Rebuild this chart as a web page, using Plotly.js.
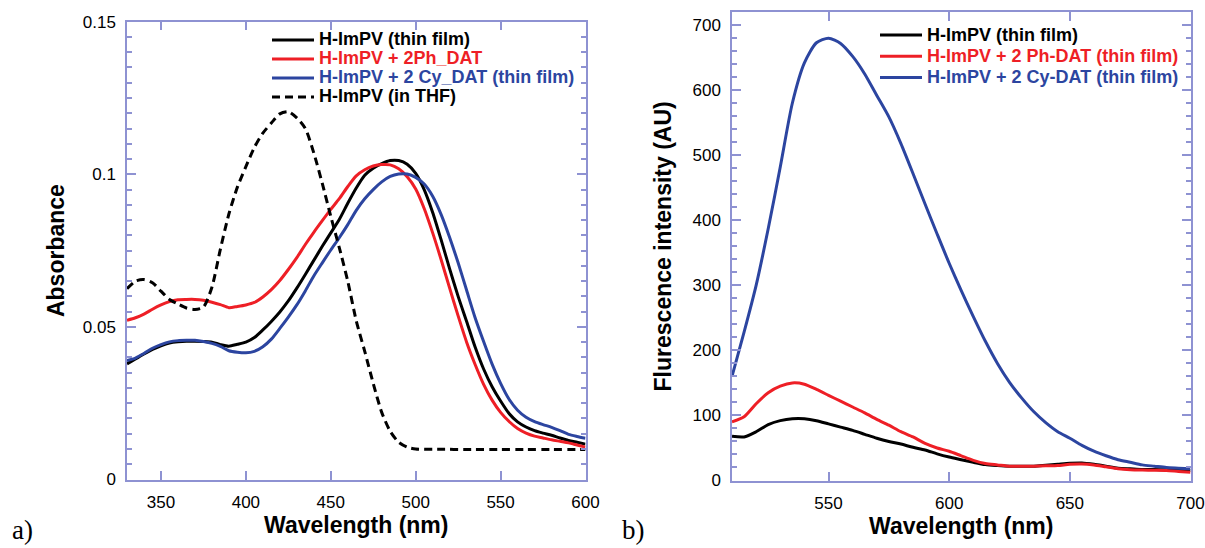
<!DOCTYPE html>
<html>
<head>
<meta charset="utf-8">
<script src="https://cdn.plot.ly/plotly-3.0.1.min.js"></script>
<style>
  html, body { margin: 0; padding: 0; background: #fff; }
  #chart { width: 1205px; height: 548px; }
</style>
</head>
<body>
<div id="chart"></div>
<script>
// ---------- Panel a) absorbance ----------
const absWavelength = [330,335,340,345,350,355,360,365,370,375,380,385,390,395,400,405,410,415,420,425,430,435,440,445,450,455,460,465,470,475,480,485,490,495,500,505,510,515,520,525,530,535,540,545,550,555,560,565,570,575,580,585,590,595,600];

const absThinFilm = [0.0379,0.0395,0.0411,0.0426,0.0438,0.0447,0.0451,0.0453,0.0453,0.0452,0.0450,0.0442,0.0437,0.0443,0.0450,0.0465,0.0490,0.0518,0.0549,0.0585,0.0627,0.0672,0.0718,0.0764,0.0808,0.0852,0.0905,0.0955,0.0997,0.1020,0.1035,0.1045,0.1045,0.1033,0.1003,0.0950,0.0875,0.0785,0.0690,0.0600,0.0518,0.0434,0.0362,0.0304,0.0257,0.0216,0.0189,0.0172,0.0160,0.0152,0.0145,0.0136,0.0128,0.0122,0.0116];

const absPhDAT = [0.0522,0.0530,0.0542,0.0558,0.0572,0.0583,0.0589,0.0590,0.0590,0.0587,0.0581,0.0573,0.0563,0.0567,0.0572,0.0580,0.0598,0.0622,0.0652,0.0688,0.0727,0.0770,0.0810,0.0848,0.0885,0.0920,0.0960,0.0995,0.1015,0.1027,0.1032,0.1031,0.1018,0.0992,0.0952,0.0888,0.0808,0.0720,0.0627,0.0536,0.0450,0.0377,0.0312,0.0260,0.0220,0.0190,0.0167,0.0152,0.0142,0.0136,0.0130,0.0125,0.0120,0.0113,0.0106];

const absCyDAT = [0.0390,0.0398,0.0413,0.0430,0.0442,0.0451,0.0455,0.0456,0.0456,0.0452,0.0446,0.0436,0.0422,0.0417,0.0415,0.0420,0.0435,0.0460,0.0495,0.0532,0.0572,0.0618,0.0667,0.0710,0.0752,0.0792,0.0835,0.0882,0.0920,0.0950,0.0975,0.0993,0.1001,0.1001,0.0990,0.0968,0.0928,0.0868,0.0793,0.0710,0.0620,0.0530,0.0452,0.0378,0.0315,0.0263,0.0227,0.0204,0.0190,0.0180,0.0171,0.0160,0.0148,0.0141,0.0135];

const absTHF = [0.0625,0.0650,0.0655,0.0645,0.0617,0.0590,0.0575,0.0562,0.0557,0.0565,0.0630,0.0755,0.0870,0.0958,0.1025,0.1088,0.1135,0.1168,0.1198,0.1205,0.1185,0.1150,0.1070,0.0970,0.0862,0.0760,0.0650,0.0520,0.0420,0.0315,0.0220,0.0158,0.0122,0.0106,0.0100,0.0099,0.0099,0.0099,0.0099,0.0098,0.0098,0.0098,0.0098,0.0098,0.0098,0.0098,0.0098,0.0098,0.0098,0.0098,0.0098,0.0098,0.0098,0.0098,0.0098];

// ---------- Panel b) fluorescence ----------
const flWavelength = [510,515,520,525,530,535,540,545,550,555,560,565,570,575,580,585,590,595,600,605,610,615,620,625,630,635,640,645,650,655,660,665,670,675,680,685,690,695,700];

const flThinFilm = [68,67,75,86,92,95,95,92,87,82,77,71,65,60,56,51,47,41,36,32,28,24.5,23,22,22,22,23.5,25,26.5,27,25,22,19,18,17,16.8,16.4,16,15.4];

const flPhDAT = [90,98,118,135,145,150,148,140,131,122,113,104,94,85,75,67,57,50,45,38,31,26,24,22,22,22,22.5,23,25,25.5,24,21,18,16.5,16,15.8,15.4,14,12.8];

const flCyDAT = [160,228,300,387,482,580,642,673,680,672,652,625,592,559,518,472,425,379,334,292,252,214,180,151,127,106,89,75,65,54,45,38,32,28,24,22,20,19,18];

const seriesNamesA = ['H-ImPV (thin film)', 'H-ImPV + 2Ph_DAT', 'H-ImPV + 2 Cy_DAT (thin film)', 'H-ImPV (in THF)'];
const seriesNamesB = ['H-ImPV (thin film)', 'H-ImPV + 2 Ph-DAT (thin film)', 'H-ImPV + 2 Cy-DAT (thin film)'];

const BLACK = '#000000', RED = '#ee1f26', BLUE = '#2c45a0';
const FRAME = '#8e92d2';
const FONT = 'Liberation Sans, Arial, sans-serif';

function styled(txt, c) { return '<span style="color:' + c + ';font-size:18px">' + txt + '</span>'; }

function line(x, y, name, color, xa, ya, leg, dash) {
  return {
    type: 'scatter', mode: 'lines', x: x, y: y,
    name: styled(name, color), xaxis: xa, yaxis: ya, legend: leg,
    line: { color: color, width: 3, shape: 'spline', smoothing: 0.7, dash: dash || 'solid' },
    hoverinfo: 'x+y'
  };
}

const data = [
  line(absWavelength, absThinFilm, seriesNamesA[0], BLACK, 'x', 'y', 'legend'),
  line(absWavelength, absPhDAT, seriesNamesA[1], RED, 'x', 'y', 'legend'),
  line(absWavelength, absCyDAT, seriesNamesA[2], BLUE, 'x', 'y', 'legend'),
  line(absWavelength, absTHF, seriesNamesA[3], BLACK, 'x', 'y', 'legend', '8px,5px'),
  line(flWavelength, flThinFilm, seriesNamesB[0], BLACK, 'x2', 'y2', 'legend2'),
  line(flWavelength, flPhDAT, seriesNamesB[1], RED, 'x2', 'y2', 'legend2'),
  line(flWavelength, flCyDAT, seriesNamesB[2], BLUE, 'x2', 'y2', 'legend2')
];

const W = 1205, H = 548;
function px(v) { return v / W; }
function py(v) { return 1 - v / H; }

const tickFont = { family: FONT, size: 17, color: '#000' };
const titleFont = { family: FONT, size: 23, color: '#000', weight: 'bold' };

function axisCommon() {
  return {
    showline: true, linecolor: FRAME, linewidth: 1.5, mirror: 'ticks',
    ticks: 'inside', tickcolor: FRAME, ticklen: 9, tickwidth: 1.5,
    showgrid: false, zeroline: false, tickfont: tickFont,
    ticklabelstandoff: 6
  };
}

const layout = {
  width: W, height: H,
  margin: { l: 0, r: 0, t: 0, b: 0 },
  paper_bgcolor: '#fff', plot_bgcolor: '#fff',
  font: { family: FONT, color: '#000' },
  showlegend: true,
  xaxis: Object.assign(axisCommon(), {
    domain: [px(127), px(585.5)], range: [330, 600], tick0: 350, dtick: 50,
    anchor: 'y', title: { text: 'Wavelength (nm)', font: titleFont, standoff: 4 }
  }),
  yaxis: Object.assign(axisCommon(), {
    domain: [py(479.5), py(21.7)], range: [0, 0.15], dtick: 0.05, anchor: 'x',
    minor: { dtick: 0.005, ticks: 'inside', ticklen: 5, tickcolor: FRAME, tickwidth: 1.5 },
    title: { text: 'Absorbance', font: titleFont, standoff: 12 }
  }),
  xaxis2: Object.assign(axisCommon(), {
    domain: [px(732), px(1190.5)], range: [510, 700], tick0: 500, dtick: 50,
    anchor: 'y2', title: { text: 'Wavelength (nm)', font: titleFont, standoff: 4 }
  }),
  yaxis2: Object.assign(axisCommon(), {
    domain: [py(480.5), py(12.2)], range: [0, 720], dtick: 100, tick0: 0, anchor: 'x2',
    minor: { dtick: 20, ticks: 'inside', ticklen: 5, tickcolor: FRAME, tickwidth: 1.5 },
    title: { text: 'Flurescence intensity (AU)', font: titleFont, standoff: 14 }
  }),
  legend: {
    x: px(267), y: py(25.5), xanchor: 'left', yanchor: 'top',
    bgcolor: 'rgba(0,0,0,0)', borderwidth: 0,
    font: { family: FONT, size: 12, color: '#000', weight: 'bold' },
    itemwidth: 42, tracegroupgap: 0
  },
  legend2: {
    x: px(875), y: py(19.5), xanchor: 'left', yanchor: 'top',
    bgcolor: 'rgba(0,0,0,0)', borderwidth: 0,
    font: { family: FONT, size: 14, color: '#000', weight: 'bold' },
    itemwidth: 42, tracegroupgap: 0
  },
  annotations: [
    { text: 'a)', xref: 'paper', yref: 'paper', x: px(10), y: py(530), xanchor: 'left', yanchor: 'middle',
      showarrow: false, font: { family: 'Liberation Serif, Times New Roman, serif', size: 27, color: '#000' } },
    { text: 'b)', xref: 'paper', yref: 'paper', x: px(620), y: py(530), xanchor: 'left', yanchor: 'middle',
      showarrow: false, font: { family: 'Liberation Serif, Times New Roman, serif', size: 27, color: '#000' } }
  ]
};

Plotly.newPlot('chart', data, layout, { displayModeBar: false });
</script>
</body>
</html>
